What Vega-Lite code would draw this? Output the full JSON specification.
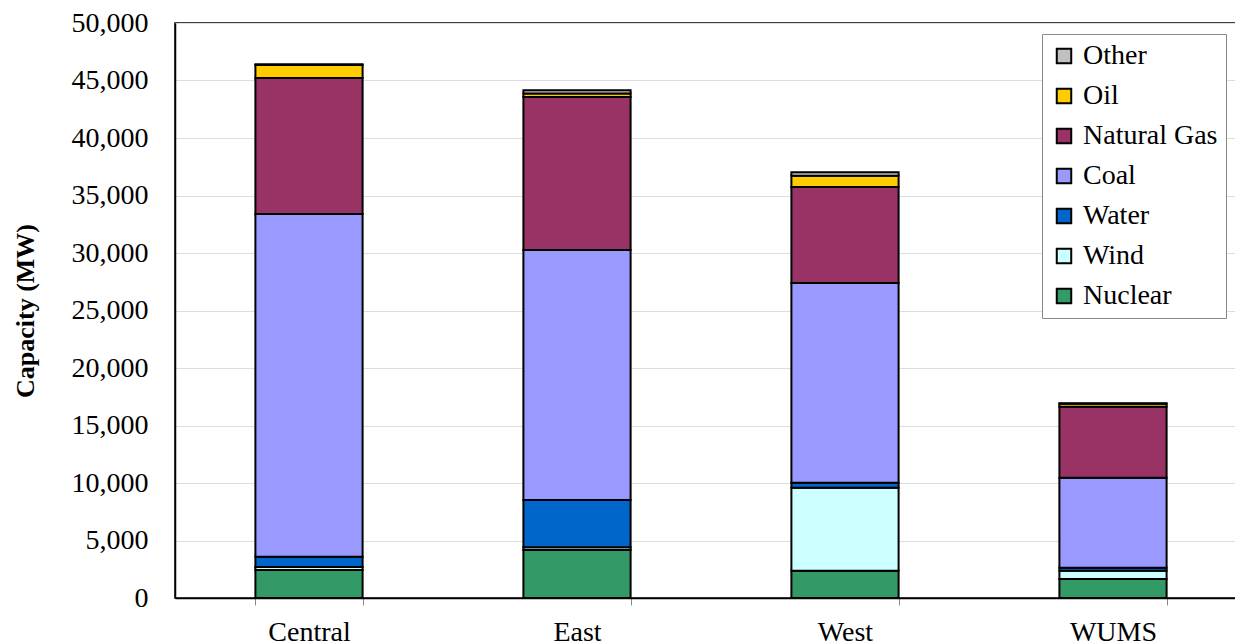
{
  "$schema": "https://vega.github.io/schema/vega-lite/v6.json",
  "autosize": "none",
  "padding": {"left": 175, "top": 23, "right": 0, "bottom": 45},
  "width": 1072,
  "height": 575,
  "background": "white",
  "title": {
    "text": "By Fuel Type, 2010",
    "font": "Liberation Serif",
    "fontSize": 28,
    "fontWeight": "normal",
    "color": "black",
    "anchor": "middle",
    "frame": "group",
    "baseline": "alphabetic",
    "offset": 2,
    "dy": 14,
    "dx": -79
  },
  "config": {
    "view": {"stroke": "black", "strokeWidth": 1.5},
    "font": "Liberation Serif"
  },
  "data": {
    "values": [
      {"region": "Central", "fuel": "Nuclear", "mw": 2430},
      {"region": "Central", "fuel": "Wind", "mw": 260},
      {"region": "Central", "fuel": "Water", "mw": 900},
      {"region": "Central", "fuel": "Coal", "mw": 29800},
      {"region": "Central", "fuel": "Natural Gas", "mw": 11830},
      {"region": "Central", "fuel": "Oil", "mw": 1130},
      {"region": "Central", "fuel": "Other", "mw": 60},
      {"region": "East", "fuel": "Nuclear", "mw": 4170},
      {"region": "East", "fuel": "Wind", "mw": 250},
      {"region": "East", "fuel": "Water", "mw": 4100},
      {"region": "East", "fuel": "Coal", "mw": 21740},
      {"region": "East", "fuel": "Natural Gas", "mw": 13300},
      {"region": "East", "fuel": "Oil", "mw": 300},
      {"region": "East", "fuel": "Other", "mw": 300},
      {"region": "West", "fuel": "Nuclear", "mw": 2370},
      {"region": "West", "fuel": "Wind", "mw": 7220},
      {"region": "West", "fuel": "Water", "mw": 440},
      {"region": "West", "fuel": "Coal", "mw": 17360},
      {"region": "West", "fuel": "Natural Gas", "mw": 8350},
      {"region": "West", "fuel": "Oil", "mw": 980},
      {"region": "West", "fuel": "Other", "mw": 300},
      {"region": "WUMS", "fuel": "Nuclear", "mw": 1650},
      {"region": "WUMS", "fuel": "Wind", "mw": 720},
      {"region": "WUMS", "fuel": "Water", "mw": 270},
      {"region": "WUMS", "fuel": "Coal", "mw": 7820},
      {"region": "WUMS", "fuel": "Natural Gas", "mw": 6180},
      {"region": "WUMS", "fuel": "Oil", "mw": 250},
      {"region": "WUMS", "fuel": "Other", "mw": 50}
    ]
  },
  "transform": [
    {"calculate": "indexof(['Nuclear','Wind','Water','Coal','Natural Gas','Oil','Other'], datum.fuel)", "as": "stackRank"}
  ],
  "mark": {"type": "bar", "stroke": "black", "strokeWidth": 2},
  "encoding": {
    "x": {
      "field": "region",
      "type": "nominal",
      "sort": ["Central", "East", "West", "WUMS"],
      "scale": {"paddingInner": 0.6, "paddingOuter": 0.3},
      "axis": {
        "title": null,
        "labelAngle": 0,
        "labelFont": "Liberation Serif",
        "labelFontSize": 28,
        "labelColor": "black",
        "labelPadding": 13,
        "tickBand": "extent",
        "domainColor": "black",
        "domainWidth": 1.5,
        "tickColor": "#888888",
        "tickSize": 7,
        "tickWidth": 1
      }
    },
    "y": {
      "field": "mw",
      "type": "quantitative",
      "stack": "zero",
      "scale": {"domain": [0, 50000], "nice": false},
      "axis": {
        "title": "Capacity (MW)",
        "titleFont": "Liberation Serif",
        "titleFontSize": 26,
        "titleFontWeight": "bold",
        "titleColor": "black",
        "titlePadding": 33,
        "values": [0, 5000, 10000, 15000, 20000, 25000, 30000, 35000, 40000, 45000, 50000],
        "format": ",.0f",
        "labelFont": "Liberation Serif",
        "labelFontSize": 28,
        "labelColor": "black",
        "labelPadding": 27,
        "ticks": false,
        "domainColor": "black",
        "domainWidth": 1.5,
        "gridColor": "#dddddd",
        "gridWidth": 1
      }
    },
    "color": {
      "field": "fuel",
      "type": "nominal",
      "sort": ["Nuclear", "Wind", "Water", "Coal", "Natural Gas", "Oil", "Other"],
      "scale": {
        "range": ["#339966", "#ccffff", "#0066cc", "#9999ff", "#993366", "#ffcc00", "#c0c0c0"]
      },
      "legend": {
        "title": null,
        "orient": "none",
        "legendX": 867,
        "legendY": 11,
        "direction": "vertical",
        "values": ["Other", "Oil", "Natural Gas", "Coal", "Water", "Wind", "Nuclear"],
        "symbolType": "square",
        "symbolSize": 210,
        "symbolStrokeColor": "black",
        "symbolStrokeWidth": 2,
        "labelFont": "Liberation Serif",
        "labelFontSize": 28,
        "labelColor": "black",
        "labelOffset": 5,
        "rowPadding": 12,
        "padding": 8,
        "fillColor": "white",
        "strokeColor": "#888888"
      }
    },
    "order": {"field": "stackRank", "type": "quantitative", "sort": "ascending"}
  }
}
